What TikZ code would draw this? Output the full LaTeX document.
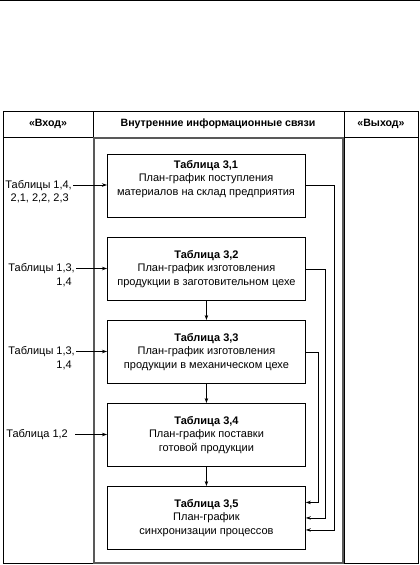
\documentclass[tikz,border=0pt]{standalone}
\usepackage{fontspec}
\setmainfont{Liberation Sans}
\usetikzlibrary{arrows.meta}
\begin{document}
\begin{tikzpicture}[x=1pt,y=-1pt,
  box/.style={draw,line width=0.9pt,minimum width=198pt,minimum height=63pt,inner sep=0pt,anchor=north west},
  txt/.style={align=center,inner sep=0pt,font=\fontsize{11}{13.4}\selectfont},
  lbl/.style={align=right,inner sep=0pt,anchor=north east,font=\fontsize{11}{13.4}\selectfont},
  hdr/.style={inner sep=0pt,font=\bfseries\fontsize{10.6}{12}\selectfont},
  arr/.style={-{Stealth[length=5pt,width=3.5pt]},line width=0.7pt}]
\useasboundingbox (0,0) rectangle (420,565);
\draw[line width=1pt] (0,0.6) -- (420,0.6);
% table
\draw[line width=0.9pt] (3,111.5) rectangle (418,563.5);
\draw[line width=0.9pt] (3,137) -- (418,137);
\draw[line width=0.9pt] (93,111.5) -- (93,563.5);
\draw[line width=0.9pt] (344,111.5) -- (344,563.5);
\draw[black!65, line width=2.2pt] (93.8,138) rectangle (343,562.6);
% headers
\node[hdr] (h1) at (48,124) {«Вход»};
\node[hdr] (h2) at (218,124) {Внутренние информационные связи};
\node[hdr] (h3) at (381,124) {«Выход»};
% boxes
\node[box] (b1) at (107,153.5) {};
\node[box] (b2) at (107,237) {};
\node[box] (b3) at (107,320) {};
\node[box] (b4) at (107,403) {};
\node[box] (b5) at (107,486) {};
\node[txt] (t1) at (206,179) {\textbf{Таблица 3,1}\\План-график поступления\\материалов на склад предприятия};
\node[txt] (t2) at (b2.center) {\textbf{Таблица 3,2}\\План-график изготовления\\продукции в заготовительном цехе};
\node[txt] (t3) at (b3.center) {\textbf{Таблица 3,3}\\План-график изготовления\\продукции в механическом цехе};
\node[txt] (t4) at (b4.center) {\textbf{Таблица 3,4}\\План-график поставки\\готовой продукции};
\node[txt] (t5) at (b5.center) {\textbf{Таблица 3,5}\\План-график\\синхронизации процессов};
% left labels
\node[lbl] (l1) at (72,180) {Таблицы 1,4,\\2,1, 2,2, 2,3\phantom{,}};
\node[lbl] (l2) at (75,263.5) {Таблицы 1,3,\\1,4\phantom{,}};
\node[lbl] (l3) at (75,346.5) {Таблицы 1,3,\\1,4\phantom{,}};
\node[lbl] (l4) at (68,429.5) {Таблица 1,2};
\coordinate (c1) at (73,185);
\coordinate (c2) at (76,268.5);
\coordinate (c3) at (76,351.5);
\coordinate (c4) at (75,434.5);
\draw[arr] (c1) -- (c1 -| b1.west);
\draw[arr] (c2) -- (c2 -| b2.west);
\draw[arr] (c3) -- (c3 -| b3.west);
\draw[arr] (c4) -- (c4 -| b4.west);
% vertical arrows
\draw[arr] (b2.south) -- (b3.north);
\draw[arr] (b3.south) -- (b4.north);
\draw[arr] (b4.south) -- (b5.north);
% feedback connectors
\draw[arr] (b1.east) -- ++(28,0) |- ([yshift=-12pt]b5.east);
\draw[arr] (b2.east) -- ++(19.5,0) |- (b5.east);
\draw[arr] (b3.east) -- ++(12,0) |- ([yshift=15.5pt]b5.east);
\end{tikzpicture}
\end{document}
